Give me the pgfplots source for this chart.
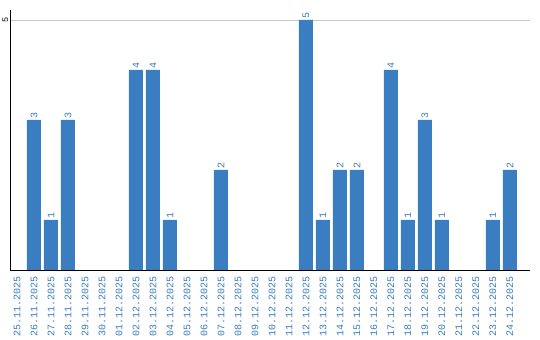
\documentclass[border=0pt]{standalone}
\usepackage{pgfplots}
\pgfplotsset{compat=1.18}
\usepackage{fontspec}
\setmainfont{Liberation Mono}
\definecolor{barblue}{RGB}{59,125,193}
\definecolor{txtblue}{RGB}{58,124,190}
\begin{document}
\begin{tikzpicture}
\begin{axis}[
  scale only axis, width=520bp, height=260bp,
  xmin=-0.41, xmax=30.18, ymin=0, ymax=5.2,
  axis x line*=bottom, axis y line*=left,
  axis line style={black, line width=0.8pt},
  xtick={0,...,29},
  xticklabels={25.11.2025,26.11.2025,27.11.2025,28.11.2025,29.11.2025,30.11.2025,01.12.2025,02.12.2025,03.12.2025,04.12.2025,05.12.2025,06.12.2025,07.12.2025,08.12.2025,09.12.2025,10.12.2025,11.12.2025,12.12.2025,13.12.2025,14.12.2025,15.12.2025,16.12.2025,17.12.2025,18.12.2025,19.12.2025,20.12.2025,21.12.2025,22.12.2025,23.12.2025,24.12.2025},
  xticklabel style={rotate=90, anchor=east, font=\fontsize{10bp}{10bp}\selectfont, text=txtblue, inner xsep=6.5bp, inner ysep=1pt},
  ytick={5},
  yticklabel style={rotate=90, anchor=south, font=\fontsize{8.5bp}{8.5bp}\selectfont, inner sep=1.5bp},
  /pgf/number format/assume math mode=true,
  ymajorgrids, grid style={black!22, line width=0.8pt},
  major tick length=0pt,
  ybar, bar width=14bp,
  nodes near coords,
  nodes near coords style={rotate=90, anchor=west, font=\fontsize{10bp}{10bp}\selectfont, text=txtblue, inner sep=1.5bp},
]
\addplot[fill=barblue, draw=none] coordinates {
 (1,3) (2,1) (3,3) (7,4) (8,4) (9,1) (12,2) (17,5) (18,1) (19,2) (20,2) (22,4) (23,1) (24,3) (25,1) (28,1) (29,2)
};
\end{axis}
\pgfresetboundingbox
\path ([shift={(-10bp,-70bp)}]current axis.south west) rectangle ([shift={(10bp,10bp)}]current axis.north east);
\end{tikzpicture}
\end{document}
